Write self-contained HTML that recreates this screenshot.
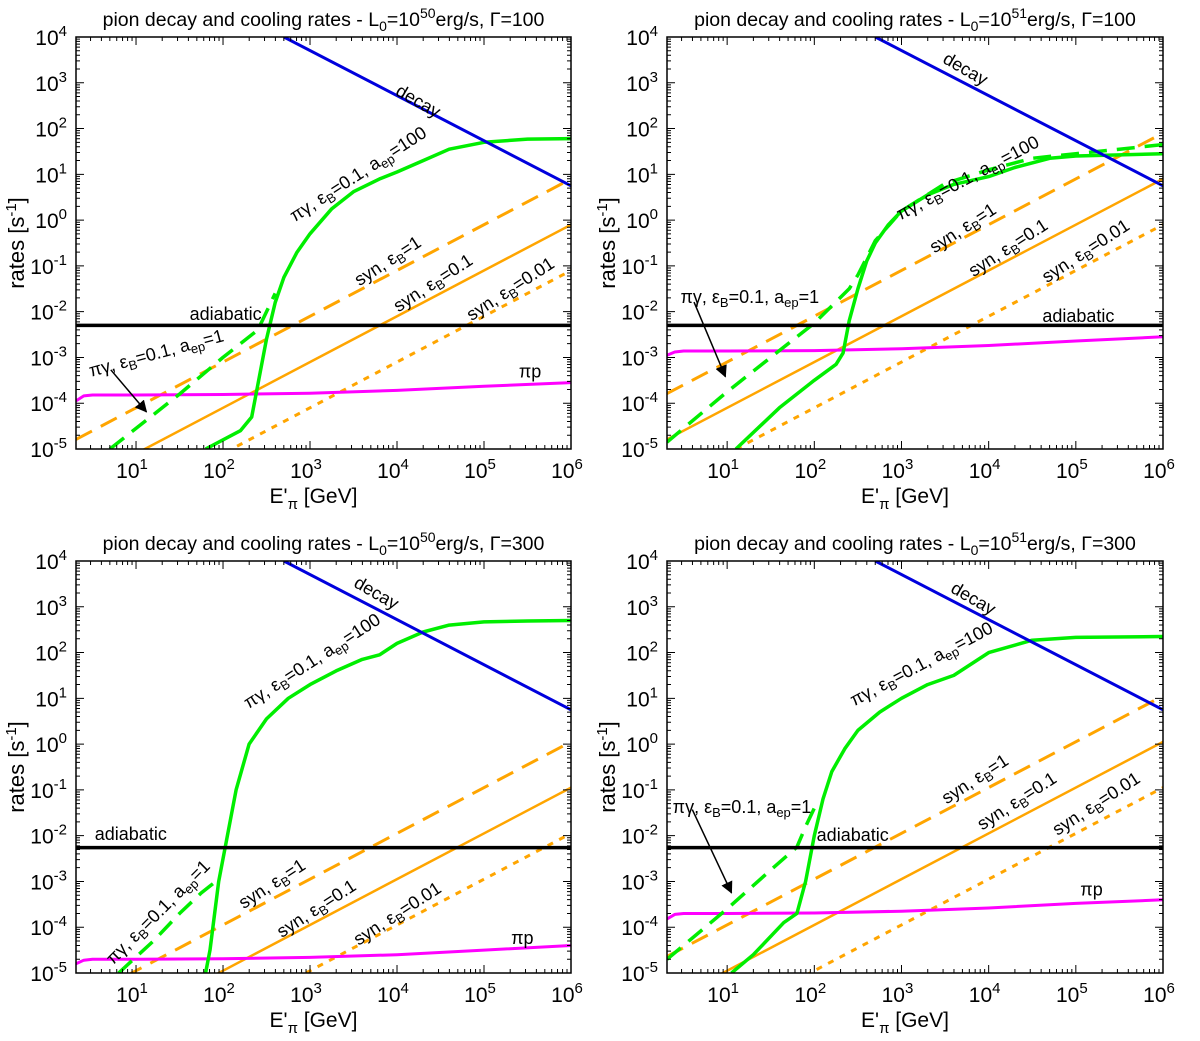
<!DOCTYPE html>
<html><head><meta charset="utf-8">
<style>
html,body{margin:0;padding:0;background:#fff;overflow:hidden;width:1200px;height:1041px;}
svg{display:block;font-family:"Liberation Sans",sans-serif;}
</style></head>
<body>
<svg id="fig" width="1200" height="1041" viewBox="0 0 1200 1041" xmlns="http://www.w3.org/2000/svg">
<defs><marker id="ah" markerWidth="12" markerHeight="12" refX="11" refY="6" orient="auto" markerUnits="userSpaceOnUse"><path d="M0,0 L12,6 L0,12 z" fill="#000"/></marker></defs>
</svg>
<script>
// ---- data (log10 E [GeV], log10 rate [s^-1]) ----
const panelTitles = ["10^50|100","10^51|100","10^50|300","10^51|300"];
const decayX = [2.7, 6];
const decayY = [[4,0.75],[4,0.75],[4,0.75],[4,0.75]];
const adiabaticLevel = [-2.3, -2.3, -2.26, -2.26];
const syn1Offset = [-5.1, -4.1, -5.95, -4.95];
const syn01Offset = [-6.1, -5.1, -6.95, -5.95];
const syn001Offset = [-7.1, -6.1, -7.95, -6.95];
const ppX = [0.31, 0.4, 0.5, 1, 2, 3, 4, 5, 6];
const ppY = [
 [-3.95,-3.84,-3.82,-3.82,-3.81,-3.78,-3.72,-3.63,-3.55],
 [-2.95,-2.88,-2.86,-2.86,-2.85,-2.81,-2.74,-2.64,-2.55],
 [-4.8,-4.72,-4.7,-4.7,-4.69,-4.66,-4.6,-4.5,-4.4],
 [-3.82,-3.72,-3.7,-3.7,-3.69,-3.65,-3.58,-3.48,-3.4]
];
const pg100X = [
 [1.8,2.2,2.33,2.4,2.5,2.6,2.7,2.85,3,3.25,3.5,3.8,4,4.3,4.6,5,5.5,6],
 [1.1,1.6,2.0,2.25,2.33,2.4,2.5,2.6,2.7,2.85,3,3.3,3.6,4,4.3,4.7,5,6],
 [1.8,1.85,1.95,2.05,2.15,2.3,2.5,2.75,3,3.3,3.6,3.8,4,4.3,4.6,5,5.5,6],
 [1.05,1.3,1.65,1.8,1.9,2.0,2.1,2.2,2.35,2.5,2.75,3,3.3,3.6,4,4.5,5,6]
];
const pg100Y = [
 [-5,-4.6,-4.3,-3.6,-2.6,-1.8,-1.25,-0.7,-0.3,0.25,0.62,0.9,1.05,1.3,1.55,1.7,1.77,1.78],
 [-5,-4.1,-3.5,-3.15,-2.9,-2.2,-1.5,-0.9,-0.5,-0.1,0.2,0.55,0.78,0.95,1.15,1.35,1.4,1.45],
 [-5,-4.5,-3.0,-2.0,-1.0,0,0.55,1.0,1.3,1.6,1.85,1.95,2.2,2.45,2.6,2.67,2.69,2.7],
 [-5,-4.6,-3.9,-3.7,-3.0,-2.0,-1.2,-0.6,-0.1,0.3,0.7,1.0,1.3,1.5,2.0,2.27,2.33,2.35]
];
const pg1X = [
 [0.7,1.5,2.0,2.4,2.5,2.6],
 [0.31,1.0,1.5,2.0,2.4,2.5,2.7,3,3.5,4,4.5,5,5.5,6],
 [0.8,1.2,1.5,1.75,1.85,1.95],
 [0.31,1.0,1.5,1.8,1.9,2.0]
];
const pg1Y = [
 [-5,-3.8,-3.0,-2.4,-2.0,-1.6],
 [-4.85,-3.75,-3.0,-2.25,-1.5,-1.2,-0.45,0.2,0.8,1.1,1.35,1.45,1.55,1.65],
 [-5,-4.3,-3.7,-3.25,-3.1,-2.95],
 [-4.7,-3.6,-2.75,-2.25,-1.8,-1.4]
];
// label anchors (data coords) : decay, pg100, syn1, syn01, syn001, adiabatic, pp, pg1
const labelX = [
 [4.21,3.59,3.93,4.45,5.34,2.03,5.53,1.25],
 [3.70,3.79,3.74,4.26,5.15,5.03,null,1.26],
 [3.73,3.06,2.60,3.11,4.04,0.94,5.44,1.30],
 [3.79,3.26,3.88,4.36,5.27,2.44,5.18,1.17]
];
const labelY = [
 [2.62,1.03,-0.87,-1.35,-1.48,-2.05,-3.31,-2.9],
 [3.32,0.94,-0.15,-0.58,-0.65,-2.09,null,-1.68],
 [3.32,1.84,-3.03,-3.57,-3.68,-1.96,-4.23,-3.63],
 [3.2,1.77,-0.74,-1.22,-1.28,-1.98,-3.18,-1.37]
];
const pg1Rot = [-15, 0, -45, 0];
const pg100Rot = [-33, -28, -33, -28];
const arrowFrom = [[0.71,-3.27],[0.62,-1.79],null,[0.6,-1.43]];
const arrowTo = [[1.12,-4.19],[0.98,-3.42],null,[1.05,-3.25]];

const xTicks = [1,2,3,4,5,6];
const yTicks = [-5,-4,-3,-2,-1,0,1,2,3,4];

// ---- layout ----
const boxes = [[76,37,495,412],[667,37,496,412],[76,561,495,412],[667,561,496,412]];
const XMIN=0.31, XMAX=6, YMIN=-5, YMAX=4;
const NS="http://www.w3.org/2000/svg";
const svg=document.getElementById('fig');
function mk(tag, attrs, parent){const e=document.createElementNS(NS,tag);for(const k in attrs)e.setAttribute(k,attrs[k]);(parent||svg).appendChild(e);return e;}

boxes.forEach((b,p)=>{
  const [bx,by,bw,bh]=b;
  const g=mk('g',{});
  
  
  const sx=v=>bx+(v-XMIN)/(XMAX-XMIN)*bw;
  const sy=v=>by+(YMAX-v)/(YMAX-YMIN)*bh;
  const clipId='clip'+p;
  const cp=mk('clipPath',{id:clipId},g); mk('rect',{x:bx,y:by,width:bw,height:bh},cp);
  const pl=mk('g',{'clip-path':'url(#'+clipId+')'},g);
  function line(xs,ys,stroke,w,dash,name){
    const d=xs.map((x,i)=>(i?'L':'M')+sx(x).toFixed(1)+','+sy(ys[i]).toFixed(1)).join(' ');
    const e=mk('path',{d:d,fill:'none',stroke:stroke,'stroke-width':w,'stroke-dasharray':dash||'none','stroke-linejoin':'round'},pl);
    
    
  }
  line([XMIN,XMAX],[XMIN+syn1Offset[p],XMAX+syn1Offset[p]],'#ffa500',3,'18,10','syn-eb1-line');
  line([XMIN,XMAX],[XMIN+syn01Offset[p],XMAX+syn01Offset[p]],'#ffa500',2.5,null,'syn-eb01-line');
  line([XMIN,XMAX],[XMIN+syn001Offset[p],XMAX+syn001Offset[p]],'#ffa500',3,'6,7','syn-eb001-line');
  line(ppX,ppY[p],'#ff00ff',3,null,'pion-proton-line');
  line(pg1X[p],pg1Y[p],'#00ee00',3.5,'18,10','pion-gamma-aep1-line');
  line(pg100X[p],pg100Y[p],'#00ee00',3.5,null,'pion-gamma-aep100-line');
  line([XMIN,XMAX],[adiabaticLevel[p],adiabaticLevel[p]],'#000',3.5,null,'adiabatic-line');
  line(decayX,decayY[p],'#0000dd',3,null,'decay-line');
  const fr=mk('rect',{x:bx,y:by,width:bw,height:bh,fill:'none',stroke:'#000','stroke-width':1.5},g);
  
  
  let td='';
  for(let dcd=0;dcd<=6;dcd++){for(let m=1;m<10;m++){const v=dcd+Math.log10(m);if(v<XMIN||v>XMAX)continue;const L=m===1?8:4;const X=sx(v);td+=`M${X},${by+bh}v${-L}M${X},${by}v${L}`;}}
  for(let dcd=-5;dcd<=4;dcd++){for(let m=1;m<10;m++){const v=dcd+Math.log10(m);if(v>YMAX)continue;const L=m===1?8:4;const Y=sy(v);td+=`M${bx},${Y}h${L}M${bx+bw},${Y}h${-L}`;}}
  mk('path',{d:td,stroke:'#000','stroke-width':1,fill:'none'},g);
  xTicks.forEach(t=>{const e=mk('text',{x:sx(t)-4,y:by+bh+29,'font-size':21,'text-anchor':'middle'},g);
    
    
    e.innerHTML='10<tspan dy="-9" font-size="15">'+t+'</tspan>';});
  yTicks.forEach(t=>{const e=mk('text',{x:bx-9,y:sy(t)+8,'font-size':21,'text-anchor':'end'},g);
    
    
    e.innerHTML='10<tspan dy="-9" font-size="15">'+t+'</tspan>';});
  const parts=panelTitles[p].split('|');
  const tt=mk('text',{x:bx+bw/2,y:by-11,'font-size':19.5,'text-anchor':'middle'},g);
  
  
  tt.innerHTML='pion decay and cooling rates - L<tspan dy="5" font-size="14">0</tspan><tspan dy="-5">=10</tspan><tspan dy="-8" font-size="14">'+parts[0].slice(3)+'</tspan><tspan dy="8">erg/s, Γ='+parts[1]+'</tspan>';
  const xt=mk('text',{x:bx+bw/2-10,y:by+bh+54,'font-size':21,'text-anchor':'middle'},g);
  
  
  xt.innerHTML='E\'<tspan dy="6" font-size="15">π</tspan><tspan dy="-6"> [GeV]</tspan>';
  const yt=mk('text',{x:0,y:0,'font-size':22,'text-anchor':'middle',transform:`translate(${bx-52},${by+bh/2}) rotate(-90)`},g);
  
  
  yt.innerHTML='rates [s<tspan dy="-8" font-size="15">-1</tspan><tspan dy="8">]</tspan>';
  const sub=s=>'<tspan dy="4" font-size="13">'+s+'</tspan><tspan dy="-4">';
  const texts=['decay',
    'πγ, ε'+sub('B')+'=0.1, a</tspan>'+sub('ep')+'=100</tspan>',
    'syn, ε'+sub('B')+'=1</tspan>',
    'syn, ε'+sub('B')+'=0.1</tspan>',
    'syn, ε'+sub('B')+'=0.01</tspan>',
    'adiabatic','πp',
    'πγ, ε'+sub('B')+'=0.1, a</tspan>'+sub('ep')+'=1</tspan>'];
  const rots=[30,pg100Rot[p],-33,-33,-33,0,0,pg1Rot[p]];
  const names=['decay-label','pion-gamma-aep100-label','syn-eb1-label','syn-eb01-label','syn-eb001-label','adiabatic-label','pion-proton-label','pion-gamma-aep1-label'];
  texts.forEach((s,i)=>{
    if(labelX[p][i]==null)return;
    const X=sx(labelX[p][i]),Y=sy(labelY[p][i])+6;
    const e=mk('text',{x:0,y:0,'font-size':18,'text-anchor':'middle',transform:`translate(${X.toFixed(1)},${Y.toFixed(1)}) rotate(${rots[i]})`},g);
    
    
    e.innerHTML=s;
  });
  if(arrowFrom[p]){
    const a=mk('line',{x1:sx(arrowFrom[p][0]),y1:sy(arrowFrom[p][1]),x2:sx(arrowTo[p][0]),y2:sy(arrowTo[p][1]),stroke:'#000','stroke-width':1.5,'marker-end':'url(#ah)'},g);
    
    
  }
});
</script>
</body></html>
